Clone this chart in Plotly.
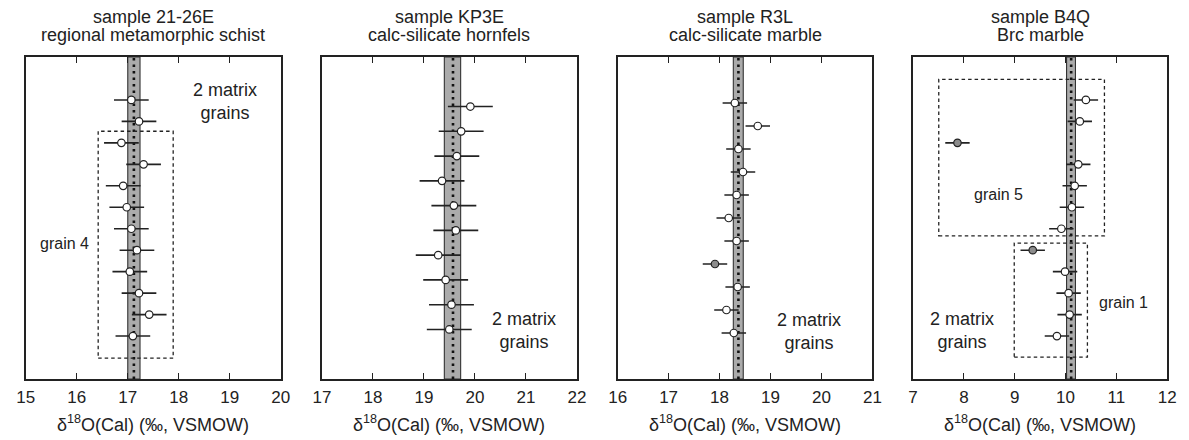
import plotly.graph_objects as go

# ---------------- data ----------------
titles_line1 = ["sample 21-26E", "sample KP3E", "sample R3L", "sample B4Q"]
titles_line2 = ["regional metamorphic schist", "calc-silicate hornfels",
                "calc-silicate marble", "Brc marble"]
x_ranges = [[15, 20], [17, 22], [16, 21], [7, 12]]
y_ranges = [[0, 15], [0, 13], [0, 14], [0, 15]]
tick_vals = [[15, 16, 17, 18, 19, 20], [17, 18, 19, 20, 21, 22],
             [16, 17, 18, 19, 20, 21], [7, 8, 9, 10, 11, 12]]

# panel 1 : 21-26E
p1_row = [13, 12, 11, 10, 9, 8, 7, 6, 5, 4, 3, 2]
p1_d18O = [17.07, 17.22, 16.875, 17.31, 16.91, 16.98, 17.07, 17.18, 17.04, 17.22, 17.42, 17.10]
p1_err = [0.34] * 12
p1_outlier = [0] * 12
# panel 2 : KP3E
p2_row = [11, 10, 9, 8, 7, 6, 5, 4, 3, 2]
p2_d18O = [19.91, 19.73, 19.645, 19.355, 19.587, 19.625, 19.28, 19.426, 19.54, 19.497]
p2_err = [0.44] * 10
p2_outlier = [0] * 10
# panel 3 : R3L
p3_row = [12, 11, 10, 9, 8, 7, 6, 5, 4, 3, 2]
p3_d18O = [18.30, 18.75, 18.37, 18.46, 18.335, 18.18, 18.335, 17.91, 18.355, 18.135, 18.28]
p3_err = [0.24] * 11
p3_outlier = [0, 0, 0, 0, 0, 0, 0, 1, 0, 0, 0]
# panel 4 : B4Q
p4_row = [13, 12, 11, 10, 9, 8, 7, 6, 5, 4, 3, 2]
p4_d18O = [10.40, 10.28, 7.873, 10.25, 10.18, 10.125, 9.917, 9.354, 9.99, 10.06, 10.08, 9.83]
p4_err = [0.24] * 12
p4_outlier = [0, 0, 1, 0, 0, 0, 0, 1, 0, 0, 0, 0]

# matrix-grain mean and band (low, mean, high)
band_low = [17.00, 19.40, 18.27, 10.02]
band_mean = [17.12, 19.57, 18.37, 10.11]
band_high = [17.24, 19.72, 18.465, 10.195]

# grain boxes: (panel, x0, x1, y0, y1)
boxes = [(1, 16.42, 17.89, 0.97, 11.54),
         (4, 7.505, 10.765, 6.67, 13.96),
         (4, 8.99, 10.43, 1.02, 6.33)]
# labels: (panel, text, x, y, size)
labels = [(1, "2 matrix<br>grains", 18.9, 12.95, 18),
          (1, "grain 4", 15.76, 6.32, 16),
          (2, "2 matrix<br>grains", 20.97, 1.95, 18),
          (3, "2 matrix<br>grains", 19.76, 2.07, 18),
          (4, "grain 5", 8.68, 8.58, 16),
          (4, "grain 1", 11.14, 3.55, 16),
          (4, "2 matrix<br>grains", 7.97, 2.28, 18)]

panels = [(p1_row, p1_d18O, p1_err, p1_outlier),
          (p2_row, p2_d18O, p2_err, p2_outlier),
          (p3_row, p3_d18O, p3_err, p3_outlier),
          (p4_row, p4_d18O, p4_err, p4_outlier)]

# ---------------- layout ----------------
W, H = 1189, 440
px_left = [17, 317.7, 618, 918]
px_right = [276, 576.7, 876.7, 1176]
px_top, px_bottom = 57, 379
FONT = "Arial, Liberation Sans, sans-serif"
TXT = "#222222"

fig = go.Figure()
layout = dict(width=W, height=H, margin=dict(l=0, r=0, t=0, b=0),
              paper_bgcolor="white", plot_bgcolor="white", showlegend=False,
              font=dict(family=FONT, color=TXT))
shapes, annotations = [], []

for i, (rows, vals, errs, outl) in enumerate(panels):
    n = i + 1
    xa = "x" if n == 1 else f"x{n}"
    ya = "y" if n == 1 else f"y{n}"
    fig.add_trace(go.Scatter(
        x=vals, y=rows, mode="markers", xaxis=xa, yaxis=ya,
        error_x=dict(type="data", array=errs, visible=True, thickness=1.6,
                     width=0, color=TXT),
        marker=dict(size=7.5, color=["#8c8c8c" if o else "white" for o in outl],
                    line=dict(color=TXT, width=1.2)),
        cliponaxis=False))
    layout[f"xaxis{'' if n == 1 else n}"] = dict(
        domain=[px_left[i] / W, px_right[i] / W], range=x_ranges[i],
        tickvals=tick_vals[i], ticks="inside", ticklen=6, tickwidth=1.2,
        tickcolor=TXT, showline=True, linecolor=TXT, linewidth=1.5,
        mirror="allticks", showgrid=False, zeroline=False, anchor=ya,
        tickfont=dict(size=17, color=TXT), ticklabelstandoff=2)
    layout[f"yaxis{'' if n == 1 else n}"] = dict(
        domain=[1 - px_bottom / H, 1 - px_top / H], range=y_ranges[i],
        showticklabels=False, ticks="",
        showline=True, linecolor=TXT, linewidth=1.5, mirror=True,
        showgrid=False, zeroline=False, anchor=xa)
    # band
    shapes.append(dict(type="rect", xref=xa, yref=f"{ya} domain",
                       x0=band_low[i], x1=band_high[i], y0=0, y1=1,
                       fillcolor="#ababab", line=dict(color="#333333", width=1.1),
                       layer="below"))
    shapes.append(dict(type="line", xref=xa, yref=f"{ya} domain",
                       x0=band_mean[i], x1=band_mean[i], y0=0, y1=1,
                       line=dict(color="#111111", width=2.6, dash="2.5px,4px"),
                       layer="below"))
    # titles
    annotations.append(dict(text=titles_line1[i], xref=f"{xa} domain", yref="paper",
                            x=0.5, y=1 - 17 / H, xanchor="center", yanchor="middle",
                            showarrow=False, font=dict(size=18, color=TXT)))
    annotations.append(dict(text=titles_line2[i], xref=f"{xa} domain", yref="paper",
                            x=0.5, y=1 - 35 / H, xanchor="center", yanchor="middle",
                            showarrow=False, font=dict(size=18, color=TXT)))
    # axis title
    annotations.append(dict(text="δ<sup>18</sup>O(Cal) (‰, VSMOW)",
                            xref=f"{xa} domain", yref="paper",
                            x=0.5, y=1 - 423 / H, xanchor="center", yanchor="middle",
                            showarrow=False, font=dict(size=18, color=TXT)))

for (n, x0, x1, y0, y1) in boxes:
    xa = "x" if n == 1 else f"x{n}"
    ya = "y" if n == 1 else f"y{n}"
    shapes.append(dict(type="rect", xref=xa, yref=ya, x0=x0, x1=x1, y0=y0, y1=y1,
                       line=dict(color=TXT, width=1.3, dash="3.5px,3px"),
                       fillcolor="rgba(0,0,0,0)"))

for (n, t, x, y, s) in labels:
    xa = "x" if n == 1 else f"x{n}"
    ya = "y" if n == 1 else f"y{n}"
    annotations.append(dict(text=t, xref=xa, yref=ya, x=x, y=y, showarrow=False,
                            xanchor="center", yanchor="middle",
                            font=dict(size=s, color=TXT)))

layout["shapes"] = shapes
layout["annotations"] = annotations
fig.update_layout(**layout)
fig.write_html("out.html")
